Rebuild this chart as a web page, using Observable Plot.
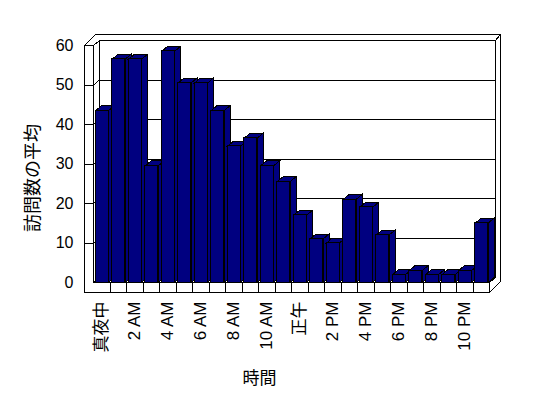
<!DOCTYPE html>
<html>
<head>
<meta charset="utf-8">
<script src="https://cdn.jsdelivr.net/npm/d3@7"></script>
<script src="https://cdn.jsdelivr.net/npm/@observablehq/plot@0.6"></script>
<style>
  html, body { margin: 0; padding: 0; background: #ffffff; }
  #chart svg { display: block; }
  #chart svg text { fill: #000000; }
</style>
</head>
<body>
<div id="chart"></div>
<script>
// ---- data ----
const hours = ["真夜中","1 AM","2 AM","3 AM","4 AM","5 AM","6 AM","7 AM","8 AM","9 AM","10 AM","11 AM",
               "正午","1 PM","2 PM","3 PM","4 PM","5 PM","6 PM","7 PM","8 PM","9 PM","10 PM","11 PM"];
const visits = [43.5, 56.5, 56.5, 29.5, 58.5, 50.5, 50.5, 43.5, 34.5, 36.5, 29.5, 25.5,
                17, 11, 10, 21, 19, 12, 2, 3, 2, 2, 3, 15];
const xTickLabels = ["真夜中","2 AM","4 AM","6 AM","8 AM","10 AM","正午","2 PM","4 PM","6 PM","8 PM","10 PM"];
const yTicks = [0, 10, 20, 30, 40, 50, 60];
const yTitle = "訪問数の平均";
const xTitle = "時間";

// ---- style ----
const NAVY = "#000080";
const FONT = "'Liberation Sans', 'Noto Sans CJK JP', sans-serif";
const DX = 6, DY = 5;        // depth of bars / plot box
const TX = 5, TY = 6;        // wall thickness
const WALL = 9;              // left wall front thickness
const SLAB = 10;             // floor thickness
const INL = 2, INR = 1.5;    // bar insets in band

const table = hours.map((h, i) => ({hour: h, visits: visits[i]}));

function line(g, pts) {
  g.append("path").attr("d", "M" + pts.map(p => p.join(",")).join("L"));
}

// walls, floor and gridlines of the 3D box
function box(index, scales, values, dim) {
  const x = scales.x, y = scales.y;
  const x0 = dim.marginLeft, x1 = dim.width - dim.marginRight;
  const yb = y(0), yt = y(60);
  const ox = x0 - WALL, fb = yb + SLAB;
  const step = x(hours[1]) - x(hours[0]);
  const g = d3.create("svg:g")
    .attr("transform", "translate(0.5,0.5)")
    .attr("fill", "none").attr("stroke", "black").attr("stroke-width", 1)
    .attr("shape-rendering", "crispEdges");
  g.append("path").attr("fill", "white").attr("stroke", "none")
    .attr("d", `M${ox},${fb}L${ox},${yt}L${ox+DX+TX},${yt-DY-TY}L${x1+DX+TX},${yt-DY-TY}L${x1+DX+TX},${fb-DY-TY}L${x1},${fb}Z`);
  line(g, [[ox, fb], [ox, yt], [ox+DX+TX, yt-DY-TY], [x1+DX+TX, yt-DY-TY], [x1+DX+TX, fb-DY-TY], [x1, fb], [ox, fb]]);
  line(g, [[x0, yt], [x0, yb]]);
  line(g, [[x0+DX, yt-DY], [x0+DX, yb-DY]]);
  line(g, [[x1+DX, yt-DY], [x1+DX, yb-DY]]);
  line(g, [[x1+DX, yt-DY], [x1+DX+TX, yt-DY-TY]]);
  for (const v of yTicks) {
    const yy = y(v);
    if (v !== 0) line(g, [[ox, yy], [x0, yy]]);
    line(g, [[x0, yy], [x0+DX, yy-DY], [x1+DX, yy-DY]]);
  }
  line(g, [[x0, yb], [x1, yb], [x1, fb]]);
  line(g, [[x1, yb], [x1+DX, yb-DY]]);
  for (let k = 1; k < hours.length; k++) {
    const xx = x0 + k * step;
    line(g, [[xx, yb], [xx, fb]]);
  }
  return g.node();
}

// top and side faces of the 3D columns
function barFaces(index, scales) {
  const x = scales.x, y = scales.y;
  const step = x(hours[1]) - x(hours[0]);
  const yb = y(0);
  const g = d3.create("svg:g")
    .attr("transform", "translate(0.5,0.5)")
    .attr("fill", NAVY).attr("stroke", "black").attr("stroke-width", 1)
    .attr("shape-rendering", "crispEdges");
  table.forEach(d => {
    const xl = x(d.hour) + INL, xr = x(d.hour) + step - INR, yt = y(d.visits);
    g.append("path").attr("d", `M${xl},${yt}L${xl+DX},${yt-DY}L${xr+DX},${yt-DY}L${xr},${yt}Z`);
    g.append("path").attr("d", `M${xr},${yt}L${xr+DX},${yt-DY}L${xr+DX},${yb-DY}L${xr},${yb}Z`);
  });
  return g.node();
}

const chart = Plot.plot({
  width: 548,
  height: 398,
  marginLeft: 93,
  marginRight: 59,
  marginTop: 45,
  marginBottom: 116,
  style: {fontFamily: FONT, fontSize: "16px", background: "#ffffff", color: "black"},
  x: {type: "band", domain: hours, padding: 0, round: false},
  y: {domain: [0, 60]},
  marks: [
    box,
    barFaces,
    Plot.barY(table, {x: "hour", y: "visits", fill: NAVY, stroke: "black", strokeWidth: 1,
                      insetLeft: INL, insetRight: INR, shapeRendering: "crispEdges"}),
    Plot.axisY(yTicks, {tickSize: 0, tickPadding: 20, fontSize: 16, label: null}),
    Plot.axisX(xTickLabels, {tickSize: 0, tickPadding: 19, tickRotate: -90, fontSize: 17, label: null,
                             fill: "black", fillOpacity: 0.999}),
    Plot.text([yTitle], {text: d => d, frameAnchor: "left", textAnchor: "middle", lineAnchor: "middle",
                         dx: -60, dy: 14, rotate: -90, fontSize: 18, fill: "black"}),
    Plot.text([xTitle], {text: d => d, frameAnchor: "bottom", textAnchor: "middle", lineAnchor: "middle",
                         dx: -32, dy: 96, fontSize: 17, fill: "black"})
  ]
});
document.getElementById("chart").appendChild(chart);
</script>
</body>
</html>
